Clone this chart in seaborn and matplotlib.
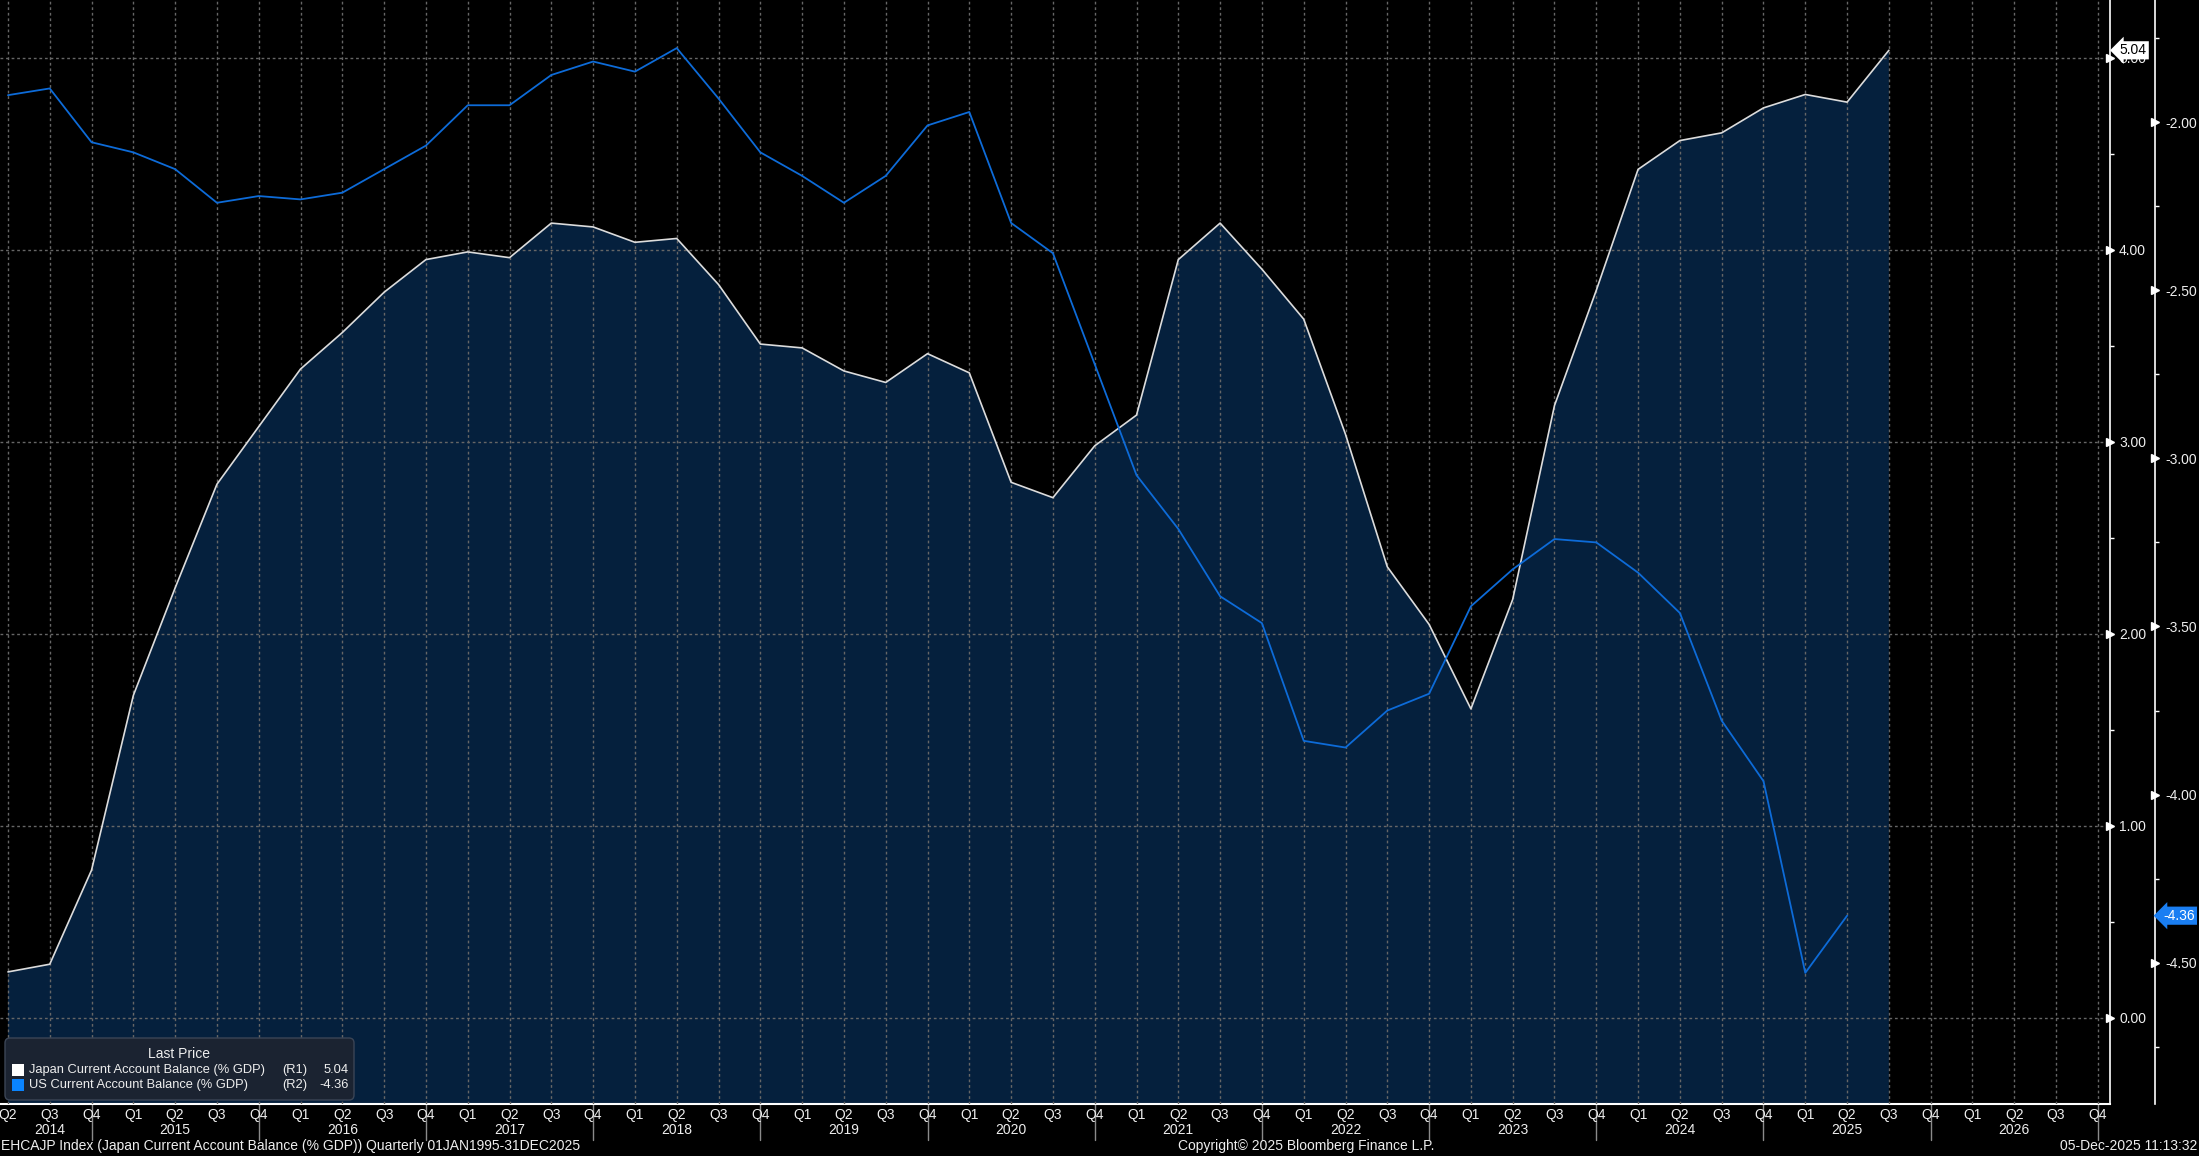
import numpy as np
import pandas as pd
import matplotlib
matplotlib.use('Agg')
import matplotlib.pyplot as plt
import matplotlib.transforms as mtrans
import seaborn as sns

# quarterly axis Q2 2014 .. Q4 2026
quarter_labels = (['Q2', 'Q3', 'Q4'] + ['Q1', 'Q2', 'Q3', 'Q4'] * 12)
year_labels = ['2014', '2015', '2016', '2017', '2018', '2019', '2020',
               '2021', '2022', '2023', '2024', '2025', '2026']

# Japan current account balance (% GDP), Q2 2014 .. Q3 2025  (R1)
japan = [0.24, 0.28, 0.77, 1.68, 2.24, 2.78, 3.08, 3.38, 3.57, 3.78, 3.95, 3.99,
         3.96, 4.14, 4.12, 4.04, 4.06, 3.82, 3.51, 3.49, 3.37, 3.31, 3.46, 3.36,
         2.79, 2.71, 2.98, 3.14, 3.95, 4.14, 3.90, 3.64, 3.04, 2.35, 2.05, 1.61,
         2.18, 3.19, 3.79, 4.42, 4.57, 4.61, 4.74, 4.81, 4.77, 5.04]

# US current account balance (% GDP), Q2 2014 .. Q2 2025  (R2)
us = [-1.92, -1.90, -2.06, -2.09, -2.14, -2.24, -2.22, -2.23, -2.21, -2.14, -2.07, -1.95,
      -1.95, -1.86, -1.82, -1.85, -1.78, -1.93, -2.09, -2.16, -2.24, -2.16, -2.01, -1.97,
      -2.30, -2.39, -2.72, -3.05, -3.21, -3.41, -3.49, -3.84, -3.86, -3.75, -3.70, -3.44,
      -3.33, -3.24, -3.25, -3.34, -3.46, -3.78, -3.96, -4.53, -4.36]

jp_last = 5.04
us_last = -4.36

sns.set_style('dark', rc={'axes.facecolor': 'black', 'figure.facecolor': 'black'})
plt.rcParams['font.family'] = ['Liberation Sans', 'DejaVu Sans']

W, H = 2199, 1156
px = 0.72  # pixels -> points at dpi 100
fs = 10

fig = plt.figure(figsize=(W / 100, H / 100), dpi=100)
fig.patch.set_facecolor('black')
ax = fig.add_axes([0, 1 - 1104 / H, 2110 / W, 1104 / H])
ax.set_facecolor('black')
ax2 = ax.twinx()

jp_df = pd.DataFrame({'q': np.arange(len(japan)), 'v': japan})
us_df = pd.DataFrame({'q': np.arange(len(us)), 'v': us})

ylo1, yhi1 = -0.448, 5.302
ylo2, yhi2 = -4.92, -1.637

fill_col = '#05203d'
blue = '#0d6bd8'
grid_col = '#666666'
txt_col = '#eeeeee'

ax.fill_between(jp_df['q'], jp_df['v'], ylo1 - 1, color=fill_col, lw=0, zorder=1)
sns.lineplot(data=jp_df, x='q', y='v', ax=ax, color='#dcdcdc', lw=1.2, zorder=4)
sns.lineplot(data=us_df, x='q', y='v', ax=ax2, color=blue, lw=1.3, zorder=4)

n_q = len(quarter_labels)
ax.set_xlim(-0.19, 50.29)
ax.set_ylim(ylo1, yhi1)
ax2.set_ylim(ylo2, yhi2)
ax.set_xlabel('')
ax.set_ylabel('')
ax2.set_ylabel('')

# x axis
ax.set_xticks(np.arange(n_q))
ax.set_xticklabels(quarter_labels)
ax.tick_params(axis='x', length=0, pad=3, labelsize=fs, colors=txt_col)
ax.grid(axis='x', ls=(0, (2, 2)), color=grid_col, lw=1, zorder=2)
ax.grid(axis='y', ls=(0, (2, 2)), color=grid_col, lw=1, zorder=2)
ax.set_axisbelow(False)

trans = mtrans.blended_transform_factory(ax.transData, ax.transAxes)
q4_idx = [i for i, q in enumerate(quarter_labels) if q == 'Q4']
for i in q4_idx:
    ax.axvline(i, ymin=-0.033, ymax=0, color='#8a8a8a', lw=1, clip_on=False)
bounds = [0] + q4_idx
for k, yr in enumerate(year_labels):
    ax.text((bounds[k] + bounds[k + 1]) / 2, -0.0235, yr, transform=trans,
            ha='center', va='center', fontsize=fs, color=txt_col)

# R1 axis
for s in ['top', 'left']:
    ax.spines[s].set_visible(False)
ax.spines['bottom'].set_color('white')
ax.spines['bottom'].set_linewidth(1.5)
ax.spines['right'].set_color('white')
ax.spines['right'].set_linewidth(1.2)
ax.yaxis.tick_right()
ax.set_yticks([0, 1, 2, 3, 4, 5])
ax.set_yticklabels(['0.00', '1.00', '2.00', '3.00', '4.00', '5.00'])
ax.set_yticks([0.5, 1.5, 2.5, 3.5, 4.5], minor=True)
ax.tick_params(axis='y', which='major', length=0, pad=9 * px, labelsize=fs, colors=txt_col)
ax.tick_params(axis='y', which='minor', length=4 * px, width=1, color='white', direction='out')
ax.plot([1.0] * 6, [0, 1, 2, 3, 4, 5], ls='none', marker='>', ms=6, color='white',
        transform=ax.get_yaxis_transform(), clip_on=False, zorder=5)

# R2 axis
for s in ['top', 'left', 'bottom']:
    ax2.spines[s].set_visible(False)
ax2.spines['right'].set_position(('outward', 45 * px))
ax2.spines['right'].set_color('white')
ax2.spines['right'].set_linewidth(1.2)
r2_major = [-4.5, -4.0, -3.5, -3.0, -2.5, -2.0]
ax2.set_yticks(r2_major)
ax2.set_yticklabels(['%.2f' % v for v in r2_major])
ax2.set_yticks([-4.75, -4.25, -3.75, -3.25, -2.75, -2.25, -1.75], minor=True)
ax2.tick_params(axis='y', which='major', length=0, pad=10 * px, labelsize=fs, colors=txt_col)
ax2.tick_params(axis='y', which='minor', length=4 * px, width=1, color='white', direction='out')
ax2.grid(False)
off = mtrans.offset_copy(ax2.get_yaxis_transform(), fig=fig, x=45, y=0, units='dots')
ax2.plot([1.0] * len(r2_major), r2_major, ls='none', marker='>', ms=6, color='white',
         transform=off, clip_on=False, zorder=5)

# last price tags
ax.annotate('%.2f' % jp_last, xy=(1.0, jp_last), xycoords=ax.get_yaxis_transform(),
            xytext=(7, 0), textcoords='offset points', ha='left', va='center',
            fontsize=fs, color='black', zorder=10, annotation_clip=False,
            bbox=dict(boxstyle='larrow,pad=0.15', fc='white', ec='none'))
ax2.annotate('%.2f' % us_last, xy=(1.0, us_last), xycoords=off,
             xytext=(6, 0), textcoords='offset points', ha='left', va='center',
             fontsize=fs, color='white', zorder=10, annotation_clip=False,
             bbox=dict(boxstyle='larrow,pad=0.15', fc='#1a7ef2', ec='none'))

# legend box
lfs = 9.3
lg = fig.add_axes([4 / W, 1 - 1101 / H, 351 / W, 64 / H])
lg.set_xlim(0, 351)
lg.set_ylim(64, 0)
lg.axis('off')
lg.add_patch(matplotlib.patches.FancyBboxPatch((1, 1), 349, 62, boxstyle='round,pad=0,rounding_size=5',
                                               fc='#1b2331', ec='#3b4556', lw=1))
lg.text(175, 17, 'Last Price', ha='center', va='center', fontsize=fs, color=txt_col)
rows = [('Japan Current Account Balance (% GDP)', '(R1)', '%.2f' % jp_last, 'white'),
        ('US Current Account Balance (% GDP)', '(R2)', '%.2f' % us_last, '#0a84ff')]
for k, (name, r, val, c) in enumerate(rows):
    yy = 33 + k * 15
    lg.add_patch(matplotlib.patches.Rectangle((8, yy - 6), 12, 12, fc=c, ec='none'))
    lg.text(25, yy, name, ha='left', va='center', fontsize=lfs, color=txt_col)
    lg.text(278, yy, r, ha='left', va='center', fontsize=lfs, color=txt_col)
    lg.text(345, yy, val, ha='right', va='center', fontsize=lfs, color=txt_col)

# footer
fig.text(1 / W, 1 - 1146 / H, 'EHCAJP Index (Japan Current Account Balance (% GDP)) Quarterly 01JAN1995-31DEC2025',
         ha='left', va='center', fontsize=fs, color=txt_col)
fig.text(1178 / W, 1 - 1146 / H, 'Copyright\u00a9 2025 Bloomberg Finance L.P.',
         ha='left', va='center', fontsize=fs, color=txt_col)
fig.text(2197 / W, 1 - 1146 / H, '05-Dec-2025 11:13:32',
         ha='right', va='center', fontsize=fs, color=txt_col)

fig.savefig('out.png', dpi=100, facecolor='black')
